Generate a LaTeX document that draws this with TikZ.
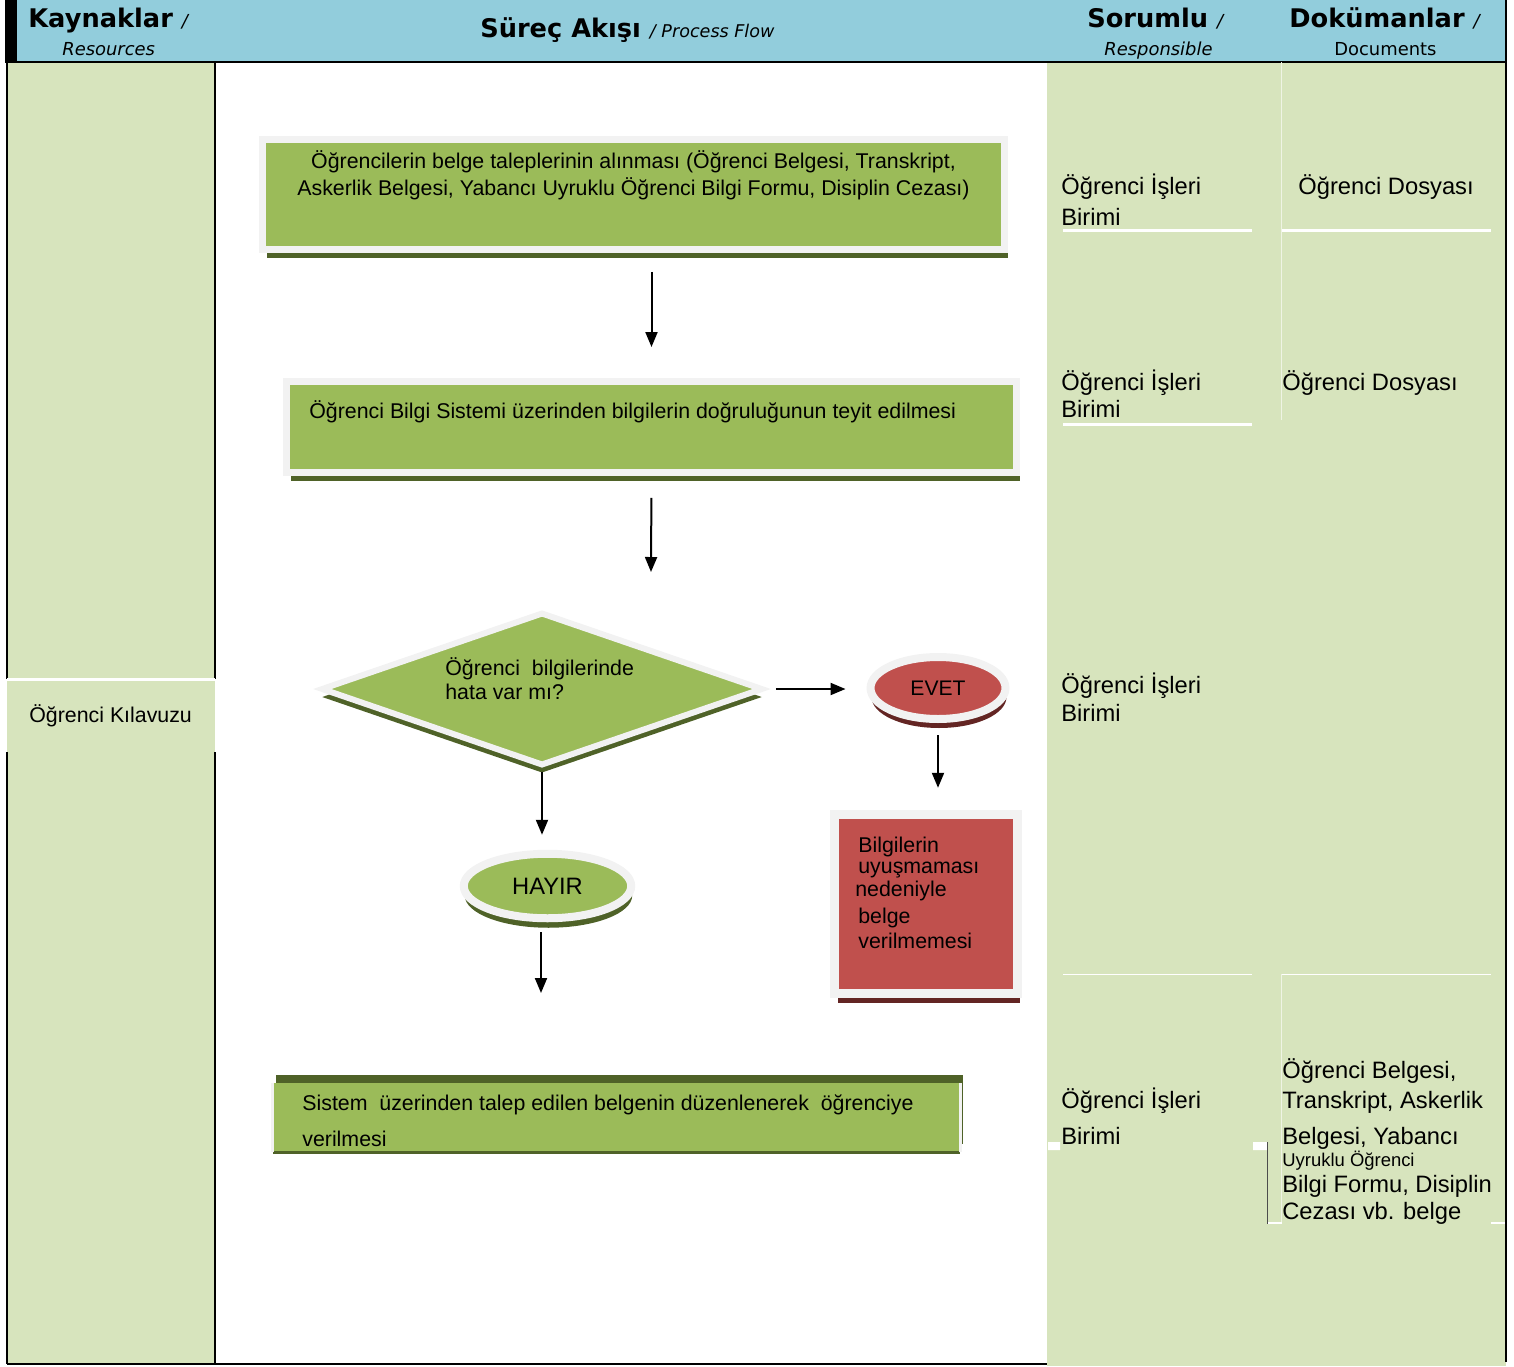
\documentclass[tikz,border=0pt]{standalone}
\usepackage{fontspec}
\setmainfont{Liberation Sans}
\newfontfamily\headfont{DejaVu Sans}[BoldFont={DejaVu Sans Bold},ItalicFont={DejaVu Sans Oblique}]
\usepackage{tikz}
\usetikzlibrary{shapes.geometric,shadows,arrows.meta,positioning}
\usepackage{xcolor}
\definecolor{headblue}{HTML}{92CDDC}
\definecolor{palegreen}{HTML}{D7E4BD}
\definecolor{leafgreen}{HTML}{9BBB59}
\definecolor{darkgreen}{HTML}{4F6228}
\definecolor{brickred}{HTML}{C0504D}
\definecolor{darkred}{HTML}{632523}
\definecolor{rim}{HTML}{F2F2F2}

\begin{document}
\begin{tikzpicture}[x=0.02cm, y=-0.02cm]
        % Define block styles
        \tikzstyle{block} = [rectangle, draw=rim, fill=leafgreen, line width=0.14cm, drop shadow={shadow xshift=0.08cm, shadow yshift=-0.18cm, fill=darkgreen, opacity=1}]
        \tikzstyle{decision} = [diamond, draw=rim, fill=leafgreen, line width=0.12cm, drop shadow={shadow xshift=0cm, shadow yshift=-0.16cm, fill=darkgreen, opacity=1}]
        \tikzstyle{answer} = [ellipse, draw=rim, line width=0.16cm, inner sep=0pt]
        \tikzstyle{redblock} = [rectangle, draw=rim, fill=brickred, line width=0.18cm, drop shadow={shadow xshift=0.06cm, shadow yshift=-0.18cm, fill=darkred, opacity=1}]
        \tikzstyle{flat} = [rectangle, fill=leafgreen, drop shadow={shadow xshift=0.06cm, shadow yshift=0.16cm, fill=darkgreen, opacity=1}]
        \tikzstyle{boxtext} = [inner sep=0pt, font=\fontsize{12.15pt}{15.3pt}\selectfont]
        \tikzstyle{cell} = [inner sep=0pt, anchor=base west, align=left, font=\fontsize{13.5pt}{15.3pt}\selectfont]
        \tikzstyle{head} = [inner sep=0pt, anchor=base west, font=\headfont\bfseries\fontsize{14.6pt}{16pt}\selectfont]
        \tikzstyle{sub} = [inner sep=0pt, anchor=base west, font=\headfont\fontsize{10.2pt}{12pt}\selectfont]
        \tikzstyle{line} = [draw, line width=0.04cm, -{Triangle[length=0.3cm, width=0.24cm]}]

        \useasboundingbox (0,0) rectangle (1514,1366);

        % Columns
        \fill[palegreen] (7,62) rectangle (215,1364);
        \fill[palegreen] (1047,62) rectangle (1506,1366);
        \fill[black] (5,0) rectangle (17,62);
        \fill[headblue] (17,0) rectangle (1506,61);
        \draw[line width=0.04cm] (5,61.5) -- (1507,61.5);
        \draw[line width=0.04cm] (1506,0) -- (1506,1362);
        \draw[line width=0.04cm] (7,1364) -- (1047,1364);
        \draw[line width=0.03cm] (7,62) -- (7,679) (7,752) -- (7,1364);
        \draw[line width=0.03cm] (215,62) -- (215,679) (215,752) -- (215,1364);
        \draw[white, line width=0.06cm] (7,679) -- (215,679);

        % Cell lines
        \draw[white, line width=0.06cm] (1063,230) -- (1252,230) (1282,230) -- (1491,230) (1063,424) -- (1252,424);
        \draw[white, line width=0.02cm] (1063,974) -- (1252,974) (1282,974) -- (1491,974);
        \draw[white!60!palegreen, line width=0.02cm] (1281,62) -- (1281,420) (1281,974) -- (1281,1223);
        \draw[white, line width=0.03cm] (1267,1223) -- (1282,1223) (1491,1223) -- (1505,1223);
        \fill[white] (1048,1142) rectangle (1060,1150) (1253,1142) rectangle (1267,1150);
        \draw[black!70, line width=0.02cm] (1267,1142) -- (1267,1224);

        % Header
        \node[head] (reshead) at (28,27) {Kaynaklar {\mdseries\itshape\fontsize{10.2pt}{12pt}\selectfont /}};
        \node[sub] (ressub) at (62,55) {\itshape Resources};
        \node[head] (flowhead) at (480,37) {Süreç Akışı {\mdseries\itshape\fontsize{10pt}{12pt}\selectfont / Process Flow}};
        \node[head] (resphead) at (1087,27) {Sorumlu {\mdseries\itshape\fontsize{10.2pt}{12pt}\selectfont /}};
        \node[sub] (respsub) at (1104,55) {\itshape Responsible};
        \node[head] (dochead) at (1289,27) {Dokümanlar {\mdseries\itshape\fontsize{10.2pt}{12pt}\selectfont /}};
        \node[sub] (docsub) at (1334,55) {Documents};

        % Nodes
        \node[block, minimum width=14.84cm, minimum height=2.2cm] (request) at (633.5,194.5) {};
        \node[block, minimum width=14.6cm, minimum height=1.82cm] (verify) at (651.5,427) {};
        \node[decision, minimum width=8.84cm, minimum height=3.07cm] (check) at (542,689) {};
        \node[answer, fill=brickred, minimum width=2.7cm, minimum height=1.24cm, font=\fontsize{12pt}{14pt}\selectfont,
              drop shadow={shadow xshift=0.02cm, shadow yshift=-0.18cm, fill=darkred, opacity=1}] (yes) at (938,688) {EVET};
        \node[answer, fill=leafgreen, minimum width=3.35cm, minimum height=1.29cm, font=\fontsize{13.5pt}{15pt}\selectfont,
              drop shadow={shadow xshift=0.02cm, shadow yshift=-0.19cm, fill=darkgreen, opacity=1}] (no) at (547.5,886) {HAYIR};
        \node[redblock, minimum width=3.66cm, minimum height=3.59cm] (refuse) at (926,904) {};
        \node[flat, minimum width=13.74cm, minimum height=1.38cm] (issue) at (616.5,1117.5) {};
        \draw[darkgreen, line width=0.05cm] (issue.south west) -- (issue.south east);
        \draw[rim, line width=0.06cm] (issue.south west) -- (issue.north west) (issue.south east) -- (issue.north east);

        % Texts in the nodes
        \node[boxtext, align=center, anchor=base] (requesttext) at (633.5,195) {Öğrencilerin belge taleplerinin alınması (Öğrenci Belgesi, Transkript,\\ Askerlik Belgesi, Yabancı Uyruklu Öğrenci Bilgi Formu, Disiplin Cezası)};
        \node[boxtext, anchor=base west] (verifytext) at (309,418) {Öğrenci Bilgi Sistemi üzerinden bilgilerin doğruluğunun teyit edilmesi};
        \node[boxtext, align=left, anchor=base west, font=\fontsize{12.15pt}{13.6pt}\selectfont] (checktext) at (445,699) {Öğrenci~ bilgilerinde\\ hata var mı?};
        \node[boxtext, align=left, anchor=base west, font=\fontsize{12.15pt}{13.6pt}\selectfont] (refusetext) at (858,948) {Bilgilerin\\[-1.7pt] uyuşmaması\\[-0.6pt] \hspace*{-0.06cm}nedeniyle\\[1.7pt] belge\\[0.6pt] verilmemesi};
        \node[boxtext, align=left, anchor=base west, font=\fontsize{12.15pt}{20.4pt}\selectfont] (issuetext) at (302,1146) {Sistem~ üzerinden talep edilen belgenin düzenlenerek~ öğrenciye\\ verilmesi};

        % Side columns
        \node[boxtext, anchor=base west] (guide) at (29,722) {Öğrenci Kılavuzu};
        \node[cell] (unit1) at (1061,225) {Öğrenci İşleri\\[2pt] Birimi};
        \node[cell] (unit2) at (1061,417) {Öğrenci İşleri\\ Birimi};
        \node[cell] (unit3) at (1061,721) {Öğrenci İşleri\\[0.6pt] Birimi};
        \node[cell] (unit4) at (1061,1144) {Öğrenci İşleri\\[5.1pt] Birimi};
        \node[cell] (doc1) at (1298,194.5) {Öğrenci Dosyası};
        \node[cell] (doc2) at (1282,390) {Öğrenci Dosyası};
        \node[cell] (doc3) at (1282,1219) {Öğrenci Belgesi,\\[1.7pt] Transkript, Askerlik\\[5.1pt] Belgesi, Yabancı\\[-2.8pt] {\fontsize{10.5pt}{12pt}\selectfont Uyruklu Öğrenci}\\[-0.6pt] Bilgi Formu, Disiplin\\ Cezası vb. belge};

        % Arrows
        \path [line, shorten <=0.38cm, shorten >=0.62cm] (request.south -| verify.north) -- (verify.north);
        \coordinate (verifyend) at (651,572);
        \path [line, shorten <=0.44cm] (verify.south) -- (verifyend);
        \path [line, shorten <=0.2cm, shorten >=0.42cm] (check.east) -- (check.east -| yes.west);
        \path [line, shorten <=0.24cm, shorten >=0.44cm] (yes.south) -- (yes.south |- refuse.north);
        \path [line, shorten <=0.06cm, shorten >=0.3cm] (check.south) -- (check.south |- no.north);
        \coordinate (noend) at (541,993);
        \path [line, shorten <=0.2cm] (no.south -| noend) -- (noend);

    \end{tikzpicture}
\end{document}
